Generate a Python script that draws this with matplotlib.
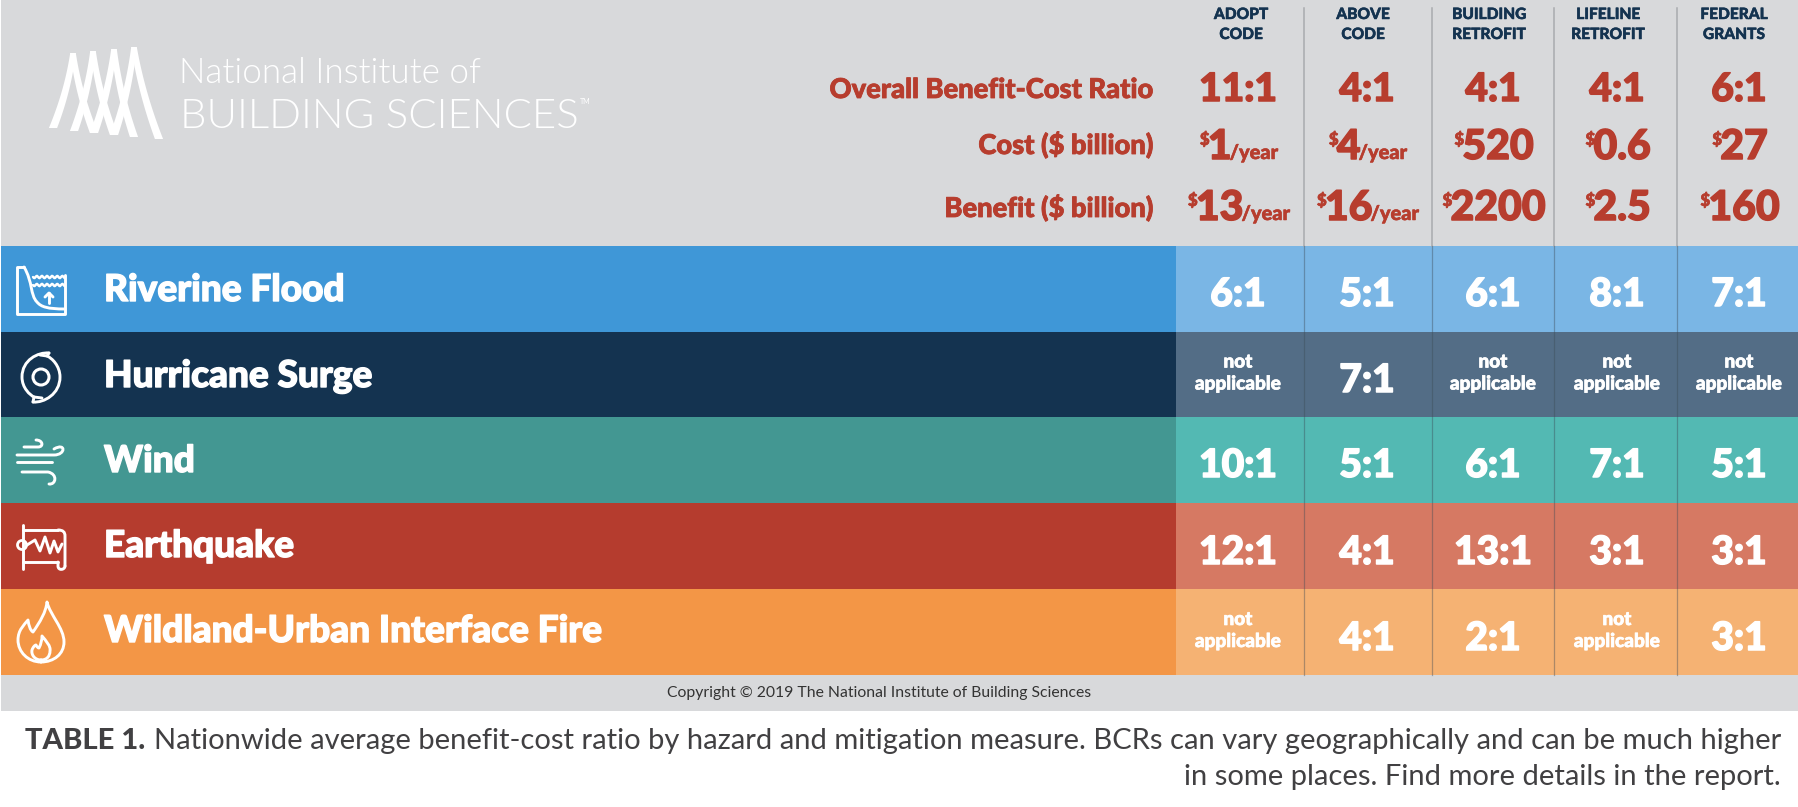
"""
    Table 1 of the NIBS mitigation report: benefit-cost ratio by hazard and measure
"""
import numpy as np
import matplotlib
matplotlib.use("Agg")
import matplotlib.pyplot as plt
import matplotlib.patheffects as pe
from matplotlib.patches import Rectangle, PathPatch, Circle
from matplotlib.path import Path

# data
measures = [["ADOPT", "CODE"], ["ABOVE", "CODE"], ["BUILDING", "RETROFIT"], ["LIFELINE", "RETROFIT"], ["FEDERAL", "GRANTS"]]
overall_ratio = ["11:1", "4:1", "4:1", "4:1", "6:1"]
cost_values = ["1", "4", "520", "0.6", "27"]
cost_units = ["/year", "/year", "", "", ""]
benefit_values = ["13", "16", "2200", "2.5", "160"]
benefit_units = ["/year", "/year", "", "", ""]
summary_labels = ["Overall Benefit-Cost Ratio", "Cost ($ billion)", "Benefit ($ billion)"]
hazards = ["Riverine Flood", "Hurricane Surge", "Wind", "Earthquake", "Wildland-Urban Interface Fire"]
flood_ratio = ["6:1", "5:1", "6:1", "8:1", "7:1"]
surge_ratio = [None, "7:1", None, None, None]
wind_ratio = ["10:1", "5:1", "6:1", "7:1", "5:1"]
quake_ratio = ["12:1", "4:1", "13:1", "3:1", "3:1"]
fire_ratio = [None, "4:1", "2:1", None, "3:1"]
hazard_ratios = [flood_ratio, surge_ratio, wind_ratio, quake_ratio, fire_ratio]

# layout, in pixels of the picture
W, H = 1799, 807
GREY = "#D8D9DB"
DARK_RED = "#B73D2E"
NAVY = "#143350"
CAPTION = "#414042"
band_colors = ["#3F97D7", "#143350", "#439792", "#B53C2E", "#F39646"]
cell_colors = ["#7AB6E5", "#536D86", "#53B9B3", "#D67963", "#F5B273"]
band_edges = [246, 332, 417, 503, 589, 675]
label_baselines = [301, 387, 472, 557, 642]
value_baselines = [306, 392, 477, 564, 650]
CELL_LEFT = 1176
dividers = [1304, 1432, 1554, 1677]
header_centers = [1241, 1363, 1489, 1608, 1734]
value_centers = [1238, 1367, 1493, 1617, 1739]
FONT = "Lato"


def px(size):
    return size * 0.72


def label(x, y, text, size, color="white", weight="bold", ha="center", heavy=0.0):
    t = ax.text(x, y, text, fontsize=px(size), color=color, fontweight=weight, ha=ha, va="baseline", family=FONT)
    if heavy:
        # Lato stops short of the weight in the original, thicken it a little
        t.set_path_effects([pe.withStroke(linewidth=heavy, foreground=color)])
    return t


def money_cell(center, baseline, value, unit):
    # small dollar, big number, small unit, centred together on the column
    parts = [("$", 17, baseline - 14, 0.5), (value, 41, baseline, 1.1)]
    if unit:
        parts.append((unit, 20, baseline, 0.4))
    texts = [label(0, y, t, s, DARK_RED, "black", ha="left", heavy=h) for t, s, y, h in parts]
    renderer = fig.canvas.get_renderer()
    widths = [t.get_window_extent(renderer).width - 2 for t in texts]
    x = center - sum(widths) / 2
    for t, w in zip(texts, widths):
        t.set_x(x)
        x += w


def stroke(verts, codes=None, lw=2.1):
    path = Path(verts, codes) if codes else Path(verts)
    ax.add_patch(PathPatch(path, fill=False, edgecolor="white", lw=lw, capstyle="round", joinstyle="round", zorder=4))


def curve(start, *segments):
    # start point followed by (ctrl, ctrl, end) cubic segments
    verts, codes = [start], [Path.MOVETO]
    for seg in segments:
        verts.extend(seg)
        codes.extend([Path.CURVE4] * 3)
    return verts, codes


def draw_logo():
    peaks = [(73, 53), (93, 51), (114, 49), (134, 47)]
    feet_left = [(53, 128), (74, 131), (94, 133), (114, 135)]
    feet_right = [(94, 133), (114, 135), (134, 137), (159, 139)]
    for (px0, py0), fl, fr in zip(peaks, feet_left, feet_right):
        for foot, bend in ((fl, 5), (fr, -5)):
            mx, my = (px0 + foot[0]) / 2 + bend, (py0 + foot[1]) / 2
            t = np.linspace(0, 1, 24)
            xs = (1 - t) ** 2 * px0 + 2 * t * (1 - t) * mx + t ** 2 * foot[0]
            ys = (1 - t) ** 2 * py0 + 2 * t * (1 - t) * my + t ** 2 * foot[1]
            half = 2.8 + 1.3 * t
            outline = np.r_[np.c_[xs - half, ys], np.c_[xs + half, ys][::-1]]
            ax.fill(outline[:, 0], outline[:, 1], color="white", lw=0, zorder=3)


def icon_flood():
    stroke([(65, 275), (65, 314), (17, 314), (17, 267), (24, 267)])
    v, c = curve((24, 267), [(33, 282), (30, 295), (37, 302)], [(41, 307), (48, 309), (65, 309)])
    stroke(v, c)
    for y in (277, 285):
        t = np.linspace(33, 65, 40)
        stroke(np.c_[t, y + 1.2 * np.sin((t - 33) / 5.1 * 2 * np.pi)], lw=1.7)
    stroke([(49, 303), (49, 293)])
    stroke([(45, 297), (49, 293), (53, 297)])


def icon_surge():
    ax.add_patch(Circle((41, 377), 8, fill=False, edgecolor="white", lw=2.2, zorder=4))
    v, c = curve((49, 353), [(38, 352), (22, 360), (22, 377)], [(22, 388), (30, 395), (34, 397)])
    stroke(v, c)
    v, c = curve((33, 402), [(44, 403), (60, 394), (60, 377)], [(60, 366), (52, 358), (47, 356)])
    stroke(v, c)
    stroke([(49, 353), (47, 356), (40, 355)])
    stroke([(33, 402), (34, 397), (42, 398)])


def icon_wind():
    v, c = curve((24, 447), [(30, 447), (35, 447), (38, 447)], [(44, 447), (43, 440), (36, 440)])
    stroke(v, c)
    v, c = curve((17, 455), [(30, 455), (45, 455), (54, 455)], [(66, 455), (66, 442), (54, 449)])
    stroke(v, c)
    stroke([(17, 462), (52, 462)])
    v, c = curve((22, 472), [(32, 472), (42, 472), (48, 472)], [(58, 474), (56, 485), (49, 484)])
    stroke(v, c)


def icon_quake():
    stroke([(23, 525), (23, 569)])
    stroke([(23, 530), (58, 530)])
    v, c = curve((58, 530), [(63, 530), (65, 532), (65, 536)], [(65, 545), (65, 558), (65, 566)])
    stroke(v, c)
    stroke([(23, 562), (58, 562)])
    v, c = curve((65, 566), [(65, 570), (58, 571), (58, 566)], [(58, 564), (58, 563), (58, 562)])
    stroke(v, c)
    ax.add_patch(Circle((22, 545), 4.5, fill=False, edgecolor="white", lw=2.0, zorder=4))
    stroke([(27, 545), (35, 540), (40, 551), (45, 537), (50, 553), (54, 541), (58, 552), (62, 544)])


def icon_fire():
    v, c = curve((41, 662), [(28, 662), (18, 652), (18, 640)], [(18, 630), (24, 625), (28, 620)],
                 [(29, 626), (30, 630), (33, 632)], [(40, 622), (46, 612), (47, 602)],
                 [(50, 615), (64, 628), (64, 642)], [(64, 654), (54, 662), (41, 662)])
    stroke(v, c)
    v, c = curve((41, 660), [(35, 660), (31, 655), (32, 650)], [(33, 647), (35, 645), (36, 645)],
                 [(37, 647), (38, 648), (39, 648)], [(41, 644), (42, 640), (42, 636)],
                 [(46, 641), (51, 646), (50, 651)], [(50, 656), (47, 660), (41, 660)])
    stroke(v, c)


fig = plt.figure(figsize=(W / 100, H / 100), dpi=100, facecolor="white")
ax = fig.add_axes([0, 0, 1, 1])
ax.set_xlim(0, W)
ax.set_ylim(H, 0)
ax.axis("off")

# grey panel, coloured rows
ax.add_patch(Rectangle((1, 0), W - 1, 711, color=GREY, lw=0, zorder=0))
for i, hazard in enumerate(hazards):
    top, bottom = band_edges[i], band_edges[i + 1]
    ax.add_patch(Rectangle((1, top), CELL_LEFT - 1, bottom - top, color=band_colors[i], lw=0, zorder=1))
    ax.add_patch(Rectangle((CELL_LEFT, top), W - CELL_LEFT, bottom - top, color=cell_colors[i], lw=0, zorder=1))
    label(104, label_baselines[i], hazard, 37, weight="black", ha="left", heavy=1.0)
    for j, ratio in enumerate(hazard_ratios[i]):
        if ratio is None:
            mid = (top + bottom) / 2
            label(value_centers[j], mid - 7, "not", 19, weight="black", heavy=0.5)
            label(value_centers[j], mid + 15, "applicable", 19, weight="black", heavy=0.5)
        else:
            label(value_centers[j], value_baselines[i], ratio, 39, weight="black", heavy=1.1)

for x in dividers:
    ax.plot([x, x], [8, 246], color="#A9ABAE", lw=1.1, zorder=2)
    ax.plot([x, x], [246, 675], color="#3C4A55", alpha=0.4, lw=0.9, zorder=2)

# header
for center, lines in zip(header_centers, measures):
    label(center, 19, lines[0], 15.5, NAVY, "black", heavy=0.35)
    label(center, 39, lines[1], 15.5, NAVY, "black", heavy=0.35)

for text, y in zip(summary_labels, [98, 154, 217]):
    label(1153, y, text, 27.3, DARK_RED, "black", ha="right", heavy=0.6)

for center, ratio in zip(value_centers, overall_ratio):
    label(center, 101, ratio, 39, DARK_RED, "black", heavy=1.1)
for center, value, unit in zip(value_centers, cost_values, cost_units):
    money_cell(center, 159, value, unit)
for center, value, unit in zip(value_centers, benefit_values, benefit_units):
    money_cell(center, 220, value, unit)

# logo
draw_logo()
label(179, 83, "National Institute of", 35, weight=300, ha="left")
label(180, 128, "BUILDING SCIENCES", 42, weight=300, ha="left")
label(580, 104, "TM", 7, weight="normal", ha="left")

icon_flood()
icon_surge()
icon_wind()
icon_quake()
icon_fire()

# footer
label(879, 697, "Copyright © 2019 The National Institute of Building Sciences", 15.8, "#333333", "normal")
body = label(1781, 749, "Nationwide average benefit-cost ratio by hazard and mitigation measure. BCRs can vary geographically and can be much higher",
             29.1, CAPTION, "normal", ha="right")
renderer = fig.canvas.get_renderer()
left = body.get_window_extent(renderer).x0
label(left - 8, 749, "TABLE 1.", 29.1, CAPTION, "black", ha="right")
label(1781, 785, "in some places. Find more details in the report.", 29.1, CAPTION, "normal", ha="right")

fig.savefig("out.png", dpi=100, facecolor="white")
